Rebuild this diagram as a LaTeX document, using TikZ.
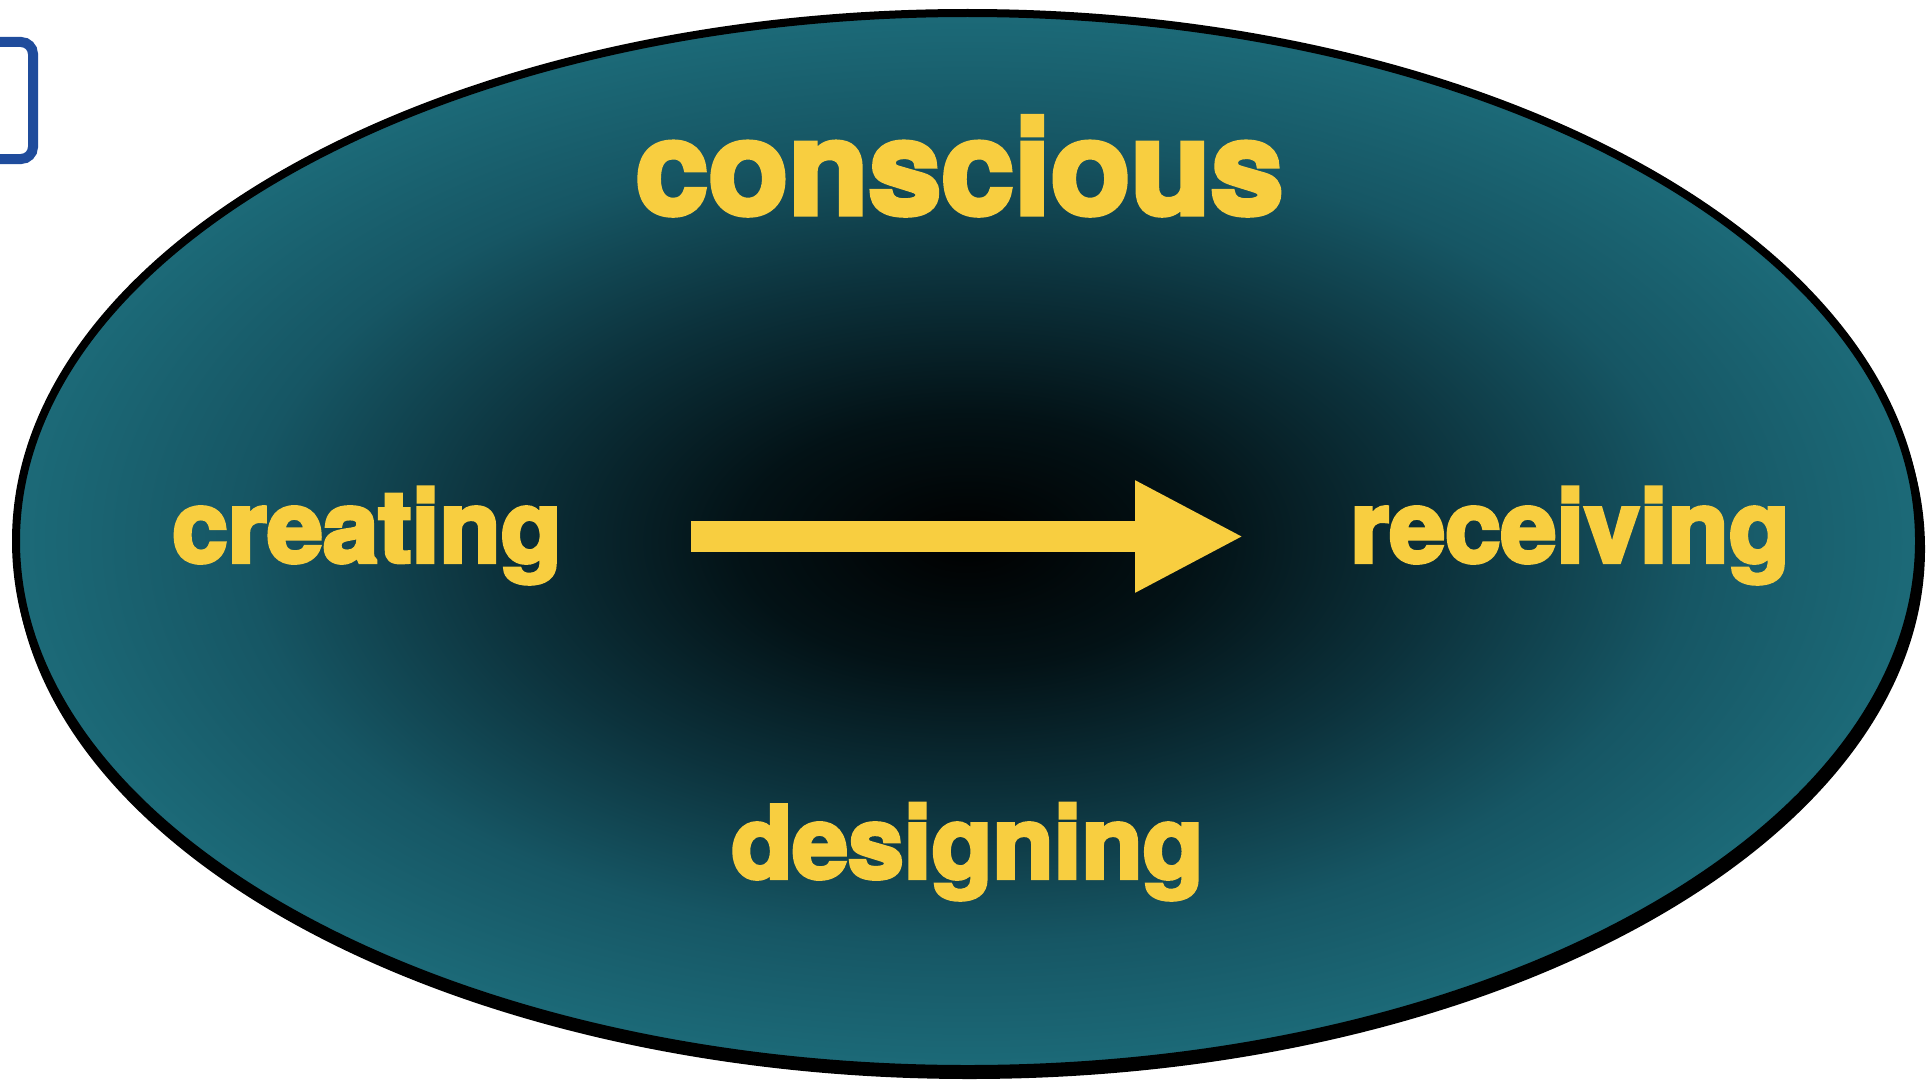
\documentclass[tikz,border=0pt]{standalone}
\usepackage{fontspec}
\newfontfamily\hvb[FakeBold=4]{texgyreheros-bold.otf}
\usetikzlibrary{arrows.meta}
\definecolor{tealedge}{RGB}{28,106,120}
\definecolor{tealouter}{RGB}{22,86,100}
\definecolor{tealmid}{RGB}{12,50,60}
\definecolor{tealdark}{RGB}{3,18,22}
\definecolor{goldtext}{RGB}{248,206,64}
\definecolor{frameblue}{RGB}{31,76,156}
\pgfdeclareradialshading{ellshade}{\pgfpoint{0bp}{0bp}}{color(0bp)=(black); color(6bp)=(tealdark); color(12.5bp)=(tealmid); color(19bp)=(tealouter); color(25bp)=(tealedge); color(50bp)=(tealedge)}
\begin{document}
\begin{tikzpicture}[x=1pt,y=-1pt,
  lbl/.style={text=goldtext, inner sep=0pt, anchor=base, font=\hvb\fontsize{100}{100}\selectfont},
  biglbl/.style={lbl, font=\hvb\fontsize{131}{131}\selectfont},
  bigarrow/.style={goldtext, line width=31pt, -{Triangle[length=109pt, width=104pt]}},
  framebox/.style={frameblue, line width=10pt, rounded corners=12pt}]
\clip (0,0) rectangle (1929,1081);
\fill[white] (0,0) rectangle (1929,1081);
% partial blue frame at top left
\draw[framebox] (-60,42) -- (33,42) -- (33,159) -- (-60,159);
% ellipse with shadow
\fill[black] (969.5,549) ellipse [x radius=955.5, y radius=530];
\shadedraw[shading=ellshade, draw=black, line width=8pt] (967.5,541) ellipse [x radius=951.5, y radius=528];
% labels
\node[biglbl] (conscious) at (959.5,214) {conscious};
\node[lbl] (creating) at (367,562) {creating};
\node[lbl] (receiving) at (1570,562) {receiving};
\node[lbl] (designing) at (967.5,878) {designing};
% arrow
\coordinate (a0) at (691,536.5);
\coordinate (a1) at (1244,536.5);
\draw[bigarrow] (a0) -- (a1);
\end{tikzpicture}
\end{document}
